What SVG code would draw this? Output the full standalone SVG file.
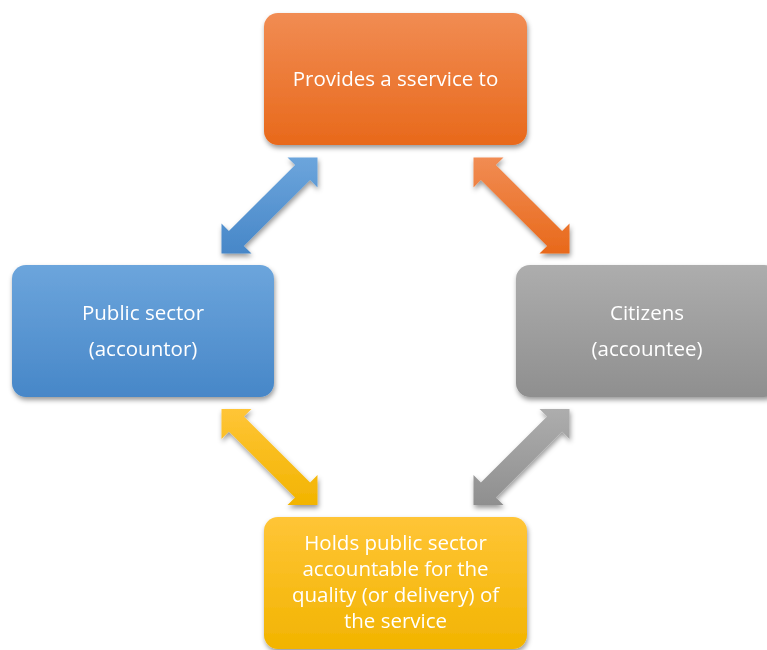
<svg xmlns="http://www.w3.org/2000/svg" width="767" height="650" viewBox="0 0 767 650">
<defs>
<linearGradient id="gOrange" x1="0" y1="0" x2="0" y2="1"><stop offset="0" stop-color="#F18C53"/><stop offset="1" stop-color="#E8691B"/></linearGradient>
<linearGradient id="gBlue" x1="0" y1="0" x2="0" y2="1"><stop offset="0" stop-color="#6CA5DC"/><stop offset="1" stop-color="#4787C8"/></linearGradient>
<linearGradient id="gGray" x1="0" y1="0" x2="0" y2="1"><stop offset="0" stop-color="#ADADAD"/><stop offset="1" stop-color="#8F8F8F"/></linearGradient>
<linearGradient id="gYellow" x1="0" y1="0" x2="0" y2="1"><stop offset="0" stop-color="#FFC537"/><stop offset="1" stop-color="#F2B400"/></linearGradient>
<filter id="sh" x="-20%" y="-20%" width="140%" height="150%"><feDropShadow dx="1" dy="3" stdDeviation="2.5" flood-color="#000" flood-opacity="0.4"/></filter>
<polygon id="arrUR" points="48,-48 48,-18 40.6,-25.6 -25.6,40.6 -18,48 -48,48 -48,18 -40.6,25.6 25.6,-40.6 18,-48"/>
<polygon id="arrDR" points="48,48 48,18 40.6,25.6 -25.6,-40.6 -18,-48 -48,-48 -48,-18 -40.6,-25.6 25.6,40.6 18,48"/>
</defs>
<style>
.box{filter:url(#sh);}
.t{font-family:"Open Sans","Liberation Sans",sans-serif;font-size:20.5px;fill:#fff;text-anchor:middle;}
</style>
<rect width="767" height="650" fill="#fff"/>
<g id="connectors" filter="url(#sh)">
<use href="#arrUR" transform="translate(269.5,205.5)" fill="url(#gBlue)"/>
<use href="#arrDR" transform="translate(521.5,205.5)" fill="url(#gOrange)"/>
<use href="#arrDR" transform="translate(269.5,457)" fill="url(#gYellow)"/>
<use href="#arrUR" transform="translate(521.5,457)" fill="url(#gGray)"/>
</g>
<g id="node-service">
<rect class="box" x="264" y="13" width="263" height="132" rx="14" fill="url(#gOrange)"/>
<text class="t" x="395.5" y="86">Provides a sservice to</text>
</g>
<g id="node-public">
<rect class="box" x="12" y="265" width="262" height="132" rx="14" fill="url(#gBlue)"/>
<text class="t" x="143" y="320">Public sector</text>
<text class="t" x="143" y="356">(accountor)</text>
</g>
<g id="node-citizens">
<rect class="box" x="516" y="265" width="262" height="132" rx="14" fill="url(#gGray)"/>
<text class="t" x="647" y="320">Citizens</text>
<text class="t" x="647" y="356">(accountee)</text>
</g>
<g id="node-holds">
<rect class="box" x="264" y="517" width="263" height="132" rx="14" fill="url(#gYellow)"/>
<text class="t" x="395.5" y="550">Holds public sector</text>
<text class="t" x="395.5" y="576">accountable for the</text>
<text class="t" x="395.5" y="602">quality (or delivery) of</text>
<text class="t" x="395.5" y="628">the service</text>
</g>
</svg>
